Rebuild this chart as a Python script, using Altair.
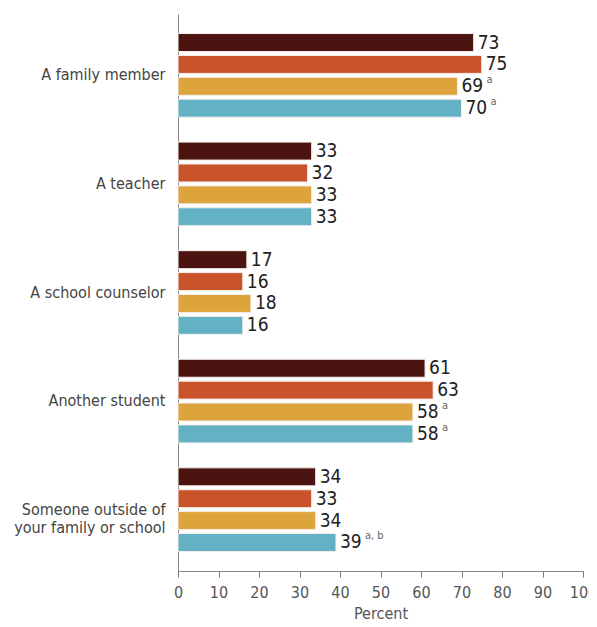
import altair as alt
import pandas as pd

categories = ["A family member", "A teacher", "A school counselor", "Another student",
              "Someone outside of|your family or school"]
series = ["S1", "S2", "S3", "S4"]
colors = ["#4b1410", "#c9542b", "#dca43a", "#62b1c5"]
values = [
    [73, 75, 69, 70],
    [33, 32, 33, 33],
    [17, 16, 18, 16],
    [61, 63, 58, 58],
    [34, 33, 34, 39],
]
notes = [
    ["", "", "a", "a"],
    ["", "", "", ""],
    ["", "", "", ""],
    ["", "", "a", "a"],
    ["", "", "", "a, b"],
]
x_ticks = [0, 10, 20, 30, 40, 50, 60, 70, 80, 90, 100]

rows = []
for c, vals, ns in zip(categories, values, notes):
    for s, v, n in zip(series, vals, ns):
        rows.append({"cat": c, "series": s, "value": v, "note": n})
df = pd.DataFrame(rows)

FONT = "DejaVu Sans Condensed"

y = alt.Y("cat:N", sort=categories, title=None,
          scale=alt.Scale(paddingInner=0.23, paddingOuter=0.18),
          axis=alt.Axis(labelExpr="split(datum.label, '|')", labelFont=FONT, labelFontSize=16,
                        labelColor="#444444", labelPadding=13, ticks=False, domainColor="#888888",
                        labelLineHeight=18, labelLimit=200))
yoff = alt.YOffset("series:N", sort=series, scale=alt.Scale(paddingInner=0.18, paddingOuter=0))
x = alt.X("value:Q", title="Percent",
          scale=alt.Scale(domain=[0, 100], nice=False),
          axis=alt.Axis(values=x_ticks, labelFont=FONT, labelFontSize=16, labelColor="#555555",
                        titleFont=FONT, titleFontSize=16, titleColor="#555555", titleFontWeight="normal",
                        tickColor="#777777", tickSize=6, domainColor="#888888", grid=False,
                        labelFlush=False, labelOverlap=False,
                        labelPadding=7, titlePadding=5))

base = alt.Chart(df).encode(y=y, yOffset=yoff)

bars = base.mark_bar(stroke="#f4eeea", strokeWidth=1).encode(
    x=x,
    color=alt.Color("series:N", sort=series, scale=alt.Scale(domain=series, range=colors), legend=None),
)
labels = base.mark_text(align="left", baseline="middle", dx=4, font=FONT, fontSize=19,
                        color="#222222").encode(x="value:Q", text="value:Q")
sups = base.transform_filter("datum.note != ''").mark_text(
    align="left", baseline="middle", dx=29, dy=-6, font=FONT, fontSize=11, color="#666666"
).encode(x="value:Q", text="note:N")

chart = alt.layer(bars, labels, sups).properties(
    width=405, height=557,
    autosize=alt.AutoSizeParams(type="none"),
    padding={"left": 170, "top": 6, "right": 6, "bottom": 52},
).configure_view(stroke=None)

chart.save("out.html", embed_options={"renderer": "svg", "actions": False})
